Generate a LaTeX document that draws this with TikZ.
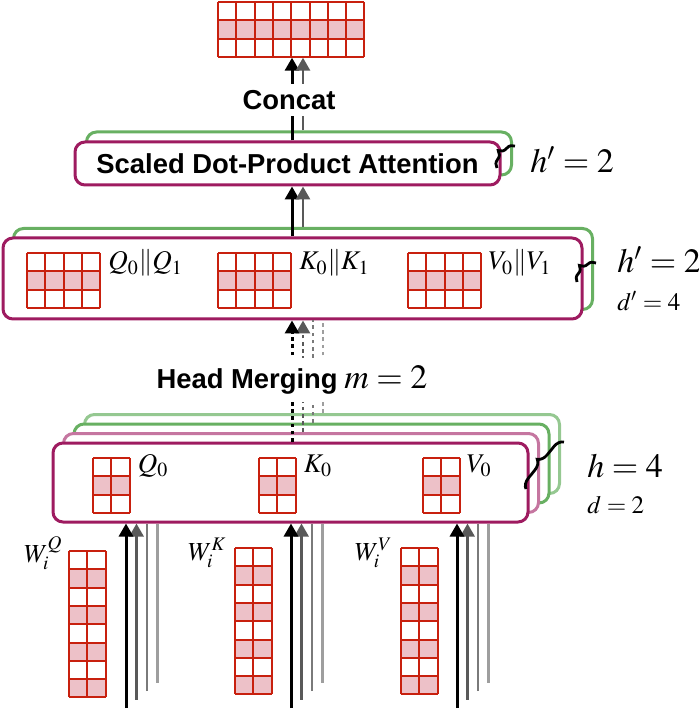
\documentclass[tikz,border=0pt]{standalone}
\usepackage{mathptmx}
\usepackage{fontspec}
\setsansfont{Liberation Sans}
\usetikzlibrary{arrows.meta, positioning, calc, decorations.pathreplacing}

\definecolor{boxmag}{RGB}{158,27,96}
\definecolor{boxgreen}{RGB}{104,176,98}
\definecolor{cellred}{RGB}{200,32,14}
\definecolor{cellpink}{RGB}{237,193,200}

\newcommand{\cellsz}{18.3}
% cell grid: name, left, top, columns, rows, pink rows
\newcommand{\mgrid}[6]{%
  \foreach \rw in {#6}
    \fill[cellpink] (#2,{#3+(\rw-1)*\cellsz}) rectangle ++({#4*\cellsz},\cellsz);
  \foreach \i in {0,...,#4}
    \draw[cellline] ({#2+\i*\cellsz},#3) -- ++(0,{#5*\cellsz});
  \foreach \j in {0,...,#5}
    \draw[cellline] (#2,{#3+\j*\cellsz}) -- ++({#4*\cellsz},0);
  \node[inner sep=0pt, anchor=north west, minimum width={#4*\cellsz*0.5pt},
        minimum height={#5*\cellsz*0.5pt}] (#1) at (#2,#3) {};
}

\begin{document}
\begin{tikzpicture}[
        x=0.5pt, y=-0.5pt,
        headbox/.style={draw=boxmag, fill=white, line width=1.5pt, rounded corners=5pt, inner sep=0pt},
        backbox/.style={headbox, draw=boxgreen},
        attbox/.style={minimum width=212.5pt, minimum height=21.5pt},
        midbox/.style={minimum width=289.5pt, minimum height=40.5pt},
        lowbox/.style={minimum width=237.5pt, minimum height=39.5pt},
        cellline/.style={draw=cellred, line width=1pt},
        arr/.style={-{Triangle[length=6.5pt, width=7pt]}},
        line1/.style={draw=black, line width=1.5pt},
        line2/.style={draw=black!65, line width=1.4pt},
        line3/.style={draw=black!52, line width=1.4pt},
        line4/.style={draw=black!38, line width=1.4pt},
        dots/.style={dash pattern=on 1.8pt off 1.8pt},
        boldtext/.style={font=\fontsize{13.7}{16}\selectfont\sffamily\bfseries},
        biglabel/.style={font=\fontsize{17}{20}\selectfont, inner sep=0pt, anchor=base west},
        smalllabel/.style={font=\fontsize{12.5}{15}\selectfont, inner sep=0pt, anchor=base west},
        gridlabel/.style={font=\fontsize{13.5}{16}\selectfont, inner sep=0pt, anchor=base west},
        wlabel/.style={font=\fontsize{13}{15}\selectfont, inner sep=0pt, anchor=base east},
        brc/.style={decorate, decoration={brace, amplitude=5pt}, line width=1.4pt}
    ]
    \useasboundingbox (0,0) rectangle (698,710);

    % output
    \mgrid{topg}{218}{2}{8}{3}{2}

    % attention heads
    \node[backbox, attbox] (attb) at (299,153.5) {};
    \node[headbox, attbox, boldtext] (att) at (287.5,163.5) {Scaled Dot-Product Attention};

    % merged projections
    \node[backbox, midbox] (midb) at (303,269) {};
    \node[headbox, midbox] (mid) at (292.5,278.5) {};
    \mgrid{qm}{27}{253}{4}{3}{2}
    \mgrid{km}{218}{253}{4}{3}{2}
    \mgrid{vm}{408}{253}{4}{3}{2}
    \node[gridlabel] (qmlab) at ($(qm.north east)+(7,17)$) {$Q_0\|Q_1$};
    \node[gridlabel] (kmlab) at ($(km.north east)+(7,17)$) {$K_0\|K_1$};
    \node[gridlabel] (vmlab) at ($(vm.north east)+(6,17)$) {$V_0\|V_1$};

    % per-head projections
    \node[backbox, lowbox, draw=boxgreen!70] (hb3) at (322,454) {};
    \node[backbox, lowbox] (hb2) at (311.5,463.5) {};
    \node[headbox, lowbox, draw=boxmag!60] (hb1) at (301,473) {};
    \node[headbox, lowbox] (hb0) at (290.5,482.5) {};
    \mgrid{qh}{93}{458}{2}{3}{2}
    \mgrid{kh}{259}{458}{2}{3}{2}
    \mgrid{vh}{423}{458}{2}{3}{2}
    \node[gridlabel] (qhlab) at ($(qh.north east)+(7,14)$) {$Q_0$};
    \node[gridlabel] (khlab) at ($(kh.north east)+(7,14)$) {$K_0$};
    \node[gridlabel] (vhlab) at ($(vh.north east)+(6,14)$) {$V_0$};

    % weights
    \mgrid{wq}{69}{551}{2}{8}{2,4,6,8}
    \mgrid{wk}{235}{548}{2}{8}{2,4,6,8}
    \mgrid{wv}{401}{548}{2}{8}{2,4,6,8}
    \node[wlabel] (wqlab) at ($(wq.north west)+(-6,11)$) {$W_i^Q$};
    \node[wlabel] (wklab) at ($(wk.north west)+(-8,12)$) {$W_i^K$};
    \node[wlabel] (wvlab) at ($(wv.north west)+(-8,12)$) {$W_i^V$};

    % arrows
    \coordinate (c1) at (292,0);
    \coordinate (c2) at (303,0);
    \coordinate (c3) at (313,0);
    \coordinate (c4) at (323,0);
    \draw[line1, arr] (att.north -| c1) -- (topg.south -| c1);
    \draw[line2, arr] (attb.north -| c2) -- (topg.south -| c2);
    \draw[line1, arr] (mid.north -| c1) -- (att.south -| c1);
    \draw[line2, arr] (midb.north -| c2) -- (att.south -| c2);

    \draw[line4, dots] (hb3.north -| c4) -- (mid.south -| c4);
    \draw[line3, dots] (hb2.north -| c3) -- (mid.south -| c3);
    \draw[line2, dots, arr] (hb1.north -| c2) -- (mid.south -| c2);
    \draw[line1, dots, arr] (hb0.north -| c1) -- (mid.south -| c1);

    \foreach \xs in {126,291,457}{
        \coordinate (w\xs-4) at ({\xs+31.5},682.5);
        \coordinate (w\xs-3) at ({\xs+21},691);
        \coordinate (w\xs-2) at ({\xs+10.5},699.5);
        \coordinate (w\xs-1) at (\xs,708);
        \draw[line4] (w\xs-4) -- (w\xs-4 |- hb0.south);
        \draw[line3] (w\xs-3) -- (w\xs-3 |- hb0.south);
        \draw[line2, arr] (w\xs-2) -- (w\xs-2 |- hb0.south);
        \draw[line1, arr] (w\xs-1) -- (w\xs-1 |- hb0.south);
    }

    \node[boldtext, fill=white, inner sep=3pt] (concat) at (289,100) {Concat};
    \node[fill=white, inner sep=4pt] (merge) at (292,380)
        {{\fontsize{13.7}{16}\selectfont\sffamily\bfseries Head Merging} {\fontsize{17}{20}\selectfont$m=2$}};

    % head counts
    \coordinate (ab1) at (497,168);
    \coordinate (ab2) at (515,146);
    \draw[brc] (ab1) -- (ab2);
    \coordinate (mb1) at (577,282);
    \coordinate (mb2) at (596,263);
    \draw[brc] (mb1) -- (mb2);
    \coordinate (lb1) at (526,489);
    \coordinate (lb2) at (564,442);
    \draw[brc] (lb1) -- (lb2);

    \node[biglabel] (hatt) at (530,173) {$h'=2$};
    \node[biglabel] (hmid) at (617,273) {$h'=2$};
    \node[smalllabel] (dmid) at (617,311) {$d'=4$};
    \node[biglabel] (hlow) at (587,477) {$h=4$};
    \node[smalllabel] (dlow) at (587,513) {$d=2$};
\end{tikzpicture}
\end{document}
